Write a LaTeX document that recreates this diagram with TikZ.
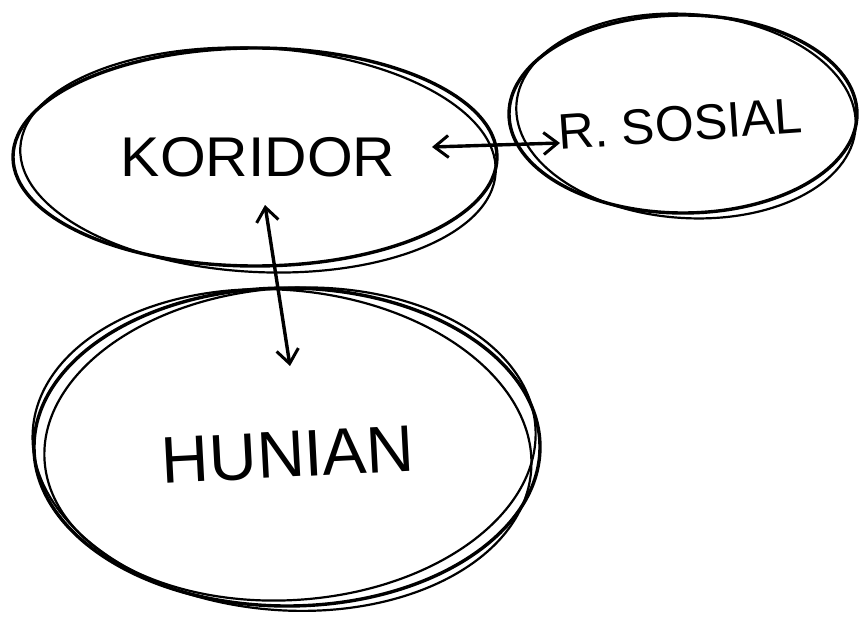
\documentclass[tikz,border=0pt]{standalone}
\usepackage{fontspec}
\setmainfont{Liberation Sans}
\usetikzlibrary{shapes.geometric,arrows.meta}
\begin{document}
\begin{tikzpicture}[x=1pt,y=-1pt,
  bubble/.style={ellipse,draw=black,line width=3.4pt,inner sep=0pt},
  sketch/.style={draw=black,line width=2.2pt},
  lbl/.style={inner sep=0pt,font=\fontsize{56}{56}\selectfont},
  dbl/.style={line width=3.4pt,{Straight Barb[length=14pt,width=22pt,line width=3pt]}-{Straight Barb[length=14pt,width=22pt,line width=3pt]}}]
\useasboundingbox[fill=white] (0,0) rectangle (862,623);
% KORIDOR ellipse
\node[bubble,minimum width=484pt,minimum height=218pt] (kor) at (255,157) {};
\draw[sketch] (258,160) ellipse [x radius=238pt, y radius=112pt, rotate=-3];
% R. SOSIAL ellipse
\node[bubble,minimum width=348pt,minimum height=198pt] (sos) at (683,114) {};
\draw[sketch] (686,116) ellipse [x radius=170pt, y radius=102pt, rotate=-4];
% HUNIAN ellipse
\node[bubble,minimum width=506pt,minimum height=318pt] (hun) at (287,447) {};
\draw[sketch] (282,450) ellipse [x radius=250pt, y radius=160pt, rotate=-5];
\draw[sketch] (290,444) ellipse [x radius=246pt, y radius=156pt, rotate=4];
% labels
\node[lbl,xscale=1.05] (kort) at (258,157) {KORIDOR};
\node[lbl,font=\fontsize{50}{50}\selectfont,rotate=4] (sost) at (680,124) {R. SOSIAL};
\node[lbl,font=\fontsize{66}{66}\selectfont,rotate=3] (hunt) at (288,455) {HUNIAN};
% arrows
\coordinate (a1) at (432,147);
\coordinate (a2) at (560,143);
\draw[dbl] (a1) -- (a2);
\coordinate (b1) at (265,205);
\coordinate (b2) at (290,366);
\draw[dbl] (b1) -- (b2);
\end{tikzpicture}
\end{document}
